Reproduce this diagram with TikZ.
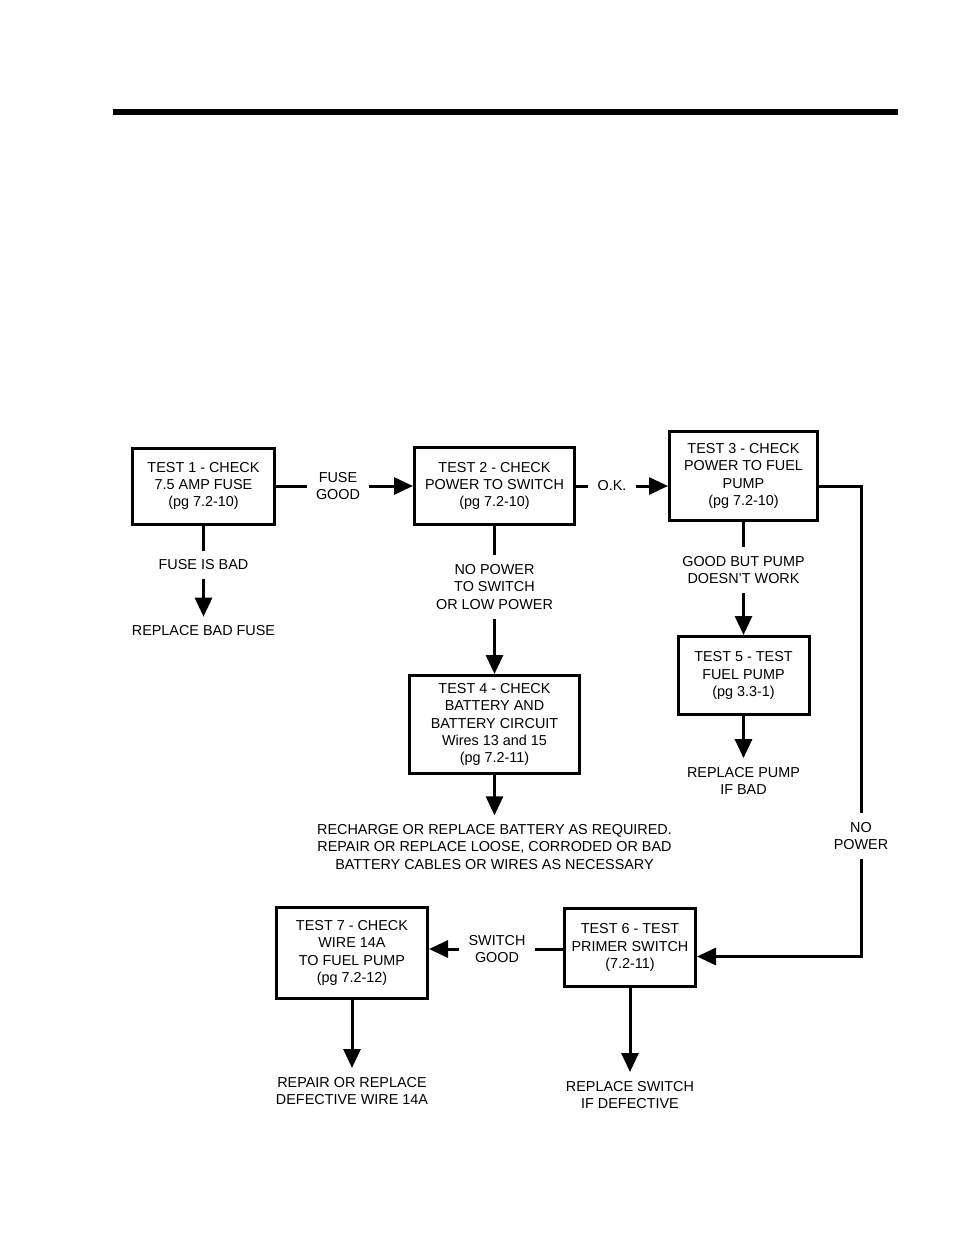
\documentclass[tikz,border=0pt]{standalone}
\usepackage{fontspec}
\setmainfont{Liberation Sans}
\usetikzlibrary{arrows.meta,positioning}

\begin{document}
\begin{tikzpicture}[
  x=1pt, y=-1pt,
  font=\fontsize{14.4}{17.4}\selectfont,
  testbox/.style={draw, line width=3pt, align=center, inner sep=2pt},
  note/.style={align=center, inner sep=9pt},
  link/.style={line width=3pt},
  flow/.style={link, -{Triangle[length=19pt,width=17pt]}}
]
  \useasboundingbox (0,0) rectangle (954,1235);
  \draw[line width=6pt] (113,112) -- (898,112);

  % test boxes
  \node[testbox, minimum width=142pt, minimum height=76pt] (t1) at (203.5,486)
    {TEST 1 - CHECK\\7.5 AMP FUSE\\(pg 7.2-10)};
  \node[testbox, minimum width=160pt, minimum height=77pt] (t2) at (494.5,486)
    {TEST 2 - CHECK\\POWER TO SWITCH\\(pg 7.2-10)};
  \node[testbox, minimum width=148pt, minimum height=89pt] (t3) at (743.5,476)
    {TEST 3 - CHECK\\POWER TO FUEL\\PUMP\\(pg 7.2-10)};
  \node[testbox, minimum width=170pt, minimum height=98pt] (t4) at (494.5,724.5)
    {TEST 4 - CHECK\\BATTERY AND\\BATTERY CIRCUIT\\Wires 13 and 15\\(pg 7.2-11)};
  \node[testbox, minimum width=131pt, minimum height=78pt] (t5) at (743.5,675.5)
    {TEST 5 - TEST\\FUEL PUMP\\(pg 3.3-1)};
  \node[testbox, minimum width=131pt, minimum height=78pt] (t6) at (630,947.5)
    {TEST 6 - TEST\\PRIMER SWITCH\\(7.2-11)};
  \node[testbox, minimum width=151pt, minimum height=91pt] (t7) at (352,953)
    {TEST 7 - CHECK\\WIRE 14A\\TO FUEL PUMP\\(pg 7.2-12)};

  % labels and outcomes
  \node[note] (fusegood) at (338,486) {FUSE\\GOOD};
  \node[note] (ok) at (612,486) {O.K.};
  \node[note] (fusebad) at (203.5,565) {FUSE IS BAD};
  \node[note] (replfuse) at (203.5,631) {REPLACE BAD FUSE};
  \node[note] (nopowersw) at (494.5,587) {NO POWER\\TO SWITCH\\OR LOW POWER};
  \node[note] (goodpump) at (743.5,570) {GOOD BUT PUMP\\DOESN'T WORK};
  \node[note] (replpump) at (743.5,781) {REPLACE PUMP\\IF BAD};
  \node[note] (recharge) at (494.5,847)
    {RECHARGE OR REPLACE BATTERY AS REQUIRED.\\REPAIR OR REPLACE LOOSE, CORRODED OR BAD\\BATTERY CABLES OR WIRES AS NECESSARY};
  \node[note] (nopower) at (861,836) {NO\\POWER};
  \node[note] (switchgood) at (497,949) {SWITCH\\GOOD};
  \node[note] (replwire) at (352,1091) {REPAIR OR REPLACE\\DEFECTIVE WIRE 14A};
  \node[note] (replswitch) at (630,1095) {REPLACE SWITCH\\IF DEFECTIVE};

  % connectors
  \draw[link] (t1) -- (fusegood);
  \draw[flow] (fusegood) -- (t2);
  \draw[link] (t2) -- (ok);
  \draw[flow] (ok) -- (t3.west |- ok);
  \draw[link] (t3.east |- ok) -| (nopower);
  \draw[flow] (nopower) |- ([yshift=-9pt]t6.east);
  \draw[link] (t1) -- (fusebad);
  \draw[flow] (fusebad) -- (replfuse);
  \draw[link] (t2) -- (nopowersw);
  \draw[flow] (nopowersw) -- (t4);
  \draw[link] (t3) -- (goodpump);
  \draw[flow] (goodpump) -- (t5);
  \draw[flow] (t5) -- (replpump);
  \draw[flow] (t4) -- (recharge);
  \draw[link] (t6.west |- switchgood) -- (switchgood);
  \draw[flow] (switchgood) -- (t7.east |- switchgood);
  \draw[flow] (t7) -- (replwire);
  \draw[flow] (t6) -- (replswitch);
\end{tikzpicture}
\end{document}
